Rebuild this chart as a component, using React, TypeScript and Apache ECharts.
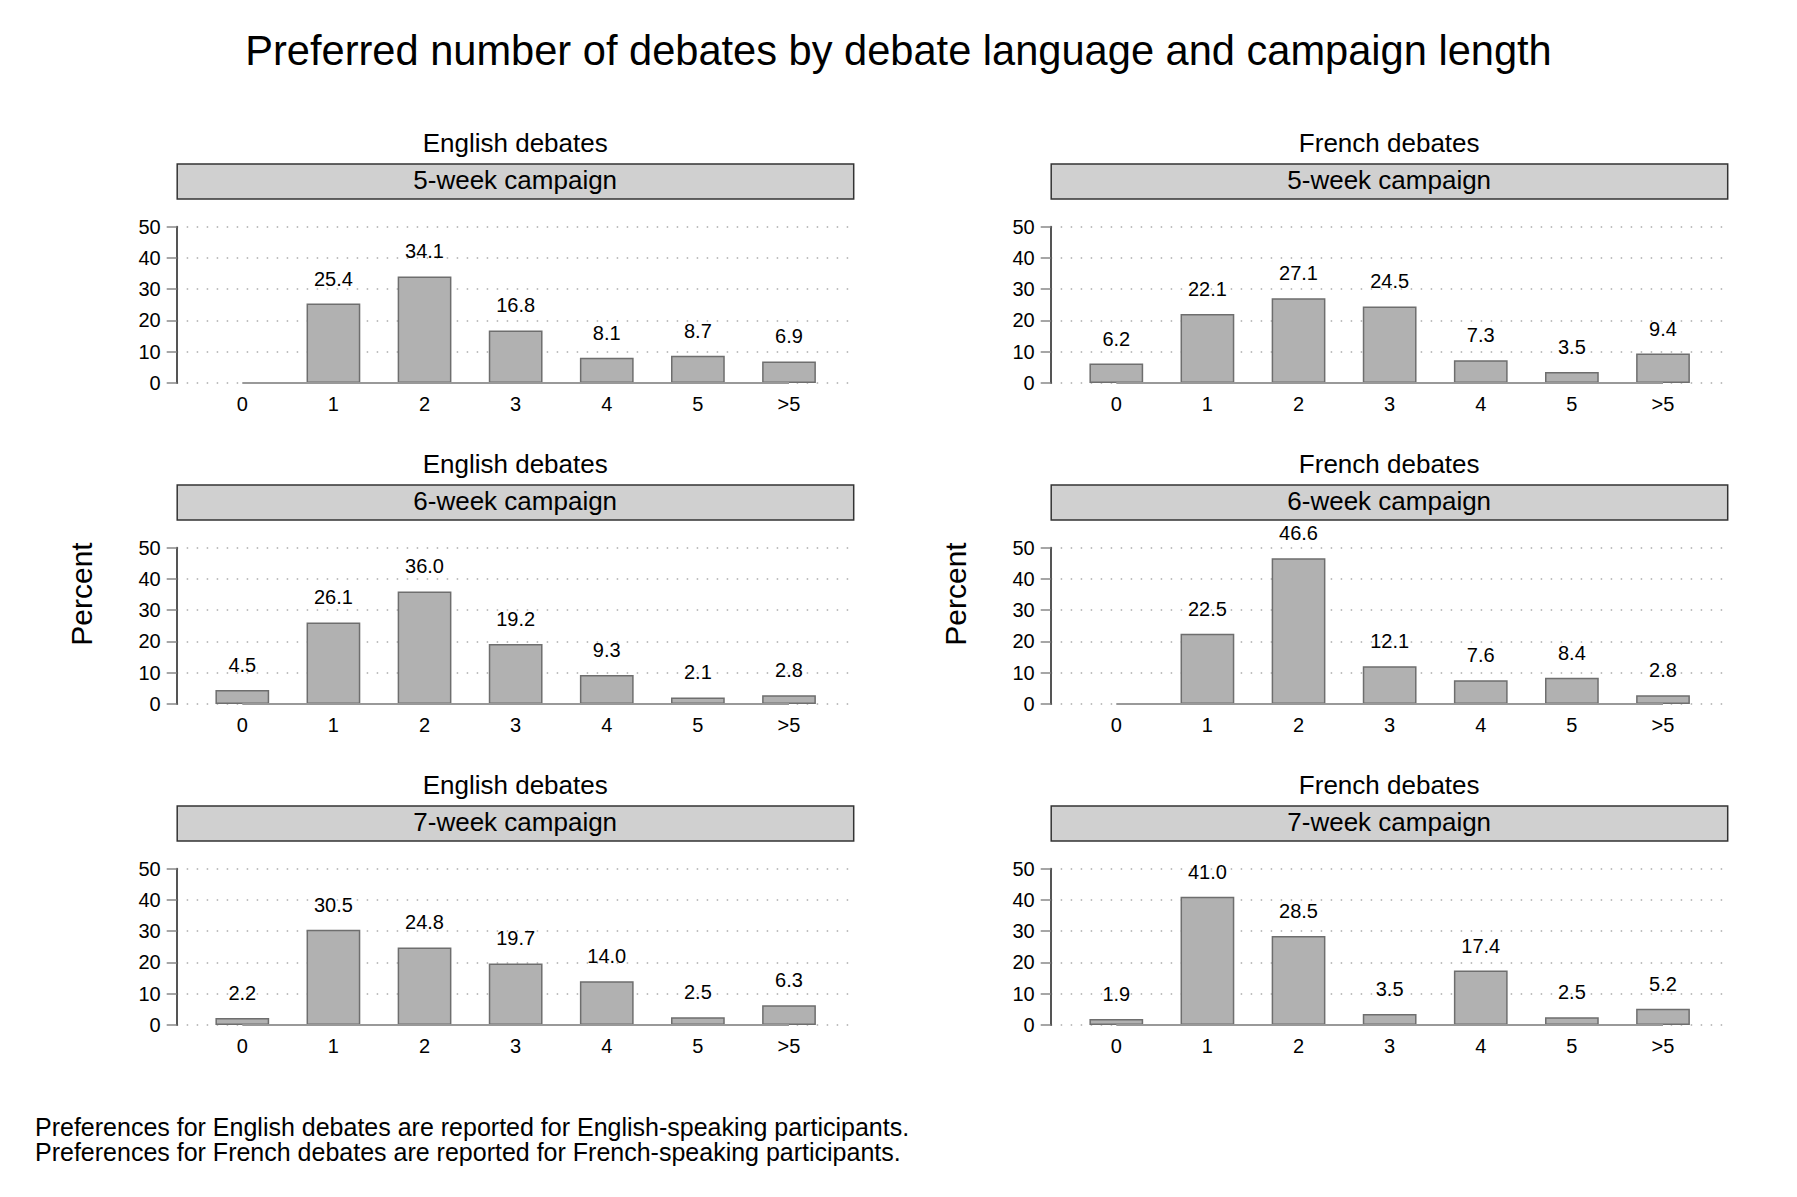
import React, { useEffect, useRef } from 'react';
import * as echarts from 'echarts';

// categories on the x axis (number of debates)
const categories = ['0', '1', '2', '3', '4', '5', '>5'];

// percent of participants, one list per panel
const english5 = [0, 25.4, 34.1, 16.8, 8.1, 8.7, 6.9];
const french5 = [6.2, 22.1, 27.1, 24.5, 7.3, 3.5, 9.4];
const english6 = [4.5, 26.1, 36.0, 19.2, 9.3, 2.1, 2.8];
const french6 = [0, 22.5, 46.6, 12.1, 7.6, 8.4, 2.8];
const english7 = [2.2, 30.5, 24.8, 19.7, 14.0, 2.5, 6.3];
const french7 = [1.9, 41.0, 28.5, 3.5, 17.4, 2.5, 5.2];

const languages = ['English debates', 'French debates'];
const campaigns = ['5-week campaign', '6-week campaign', '7-week campaign'];
const rows = [
  [english5, french5],
  [english6, french6],
  [english7, french7],
];

const titleText = 'Preferred number of debates by debate language and campaign length';
const notes = [
  'Preferences for English debates are reported for English-speaking participants.',
  'Preferences for French debates are reported for French-speaking participants.',
];

const FONT = '"Liberation Sans", Arial, Helvetica, sans-serif';

// layout (px)
const colLeft = [176.7, 1050.7];
const plotW = 677;
const plotH = 156.3;
const plotTop0 = 226.7;
const rowStep = 321;
const stripTop0 = 164;
const stripH = 35;

const App: React.FC = () => {
  const chartRef = useRef<HTMLDivElement>(null);

  useEffect(() => {
    document.body.style.margin = '0';
    const chart = echarts.init(chartRef.current!, undefined, { renderer: 'svg' });

    const grids: any[] = [];
    const xAxes: any[] = [];
    const yAxes: any[] = [];
    const series: any[] = [];
    const graphics: any[] = [];

    rows.forEach((row, r) => {
      row.forEach((values, c) => {
        const idx = grids.length;
        const left = colLeft[c];
        grids.push({ left, top: plotTop0 + r * rowStep, width: plotW, height: plotH });
        xAxes.push({
          type: 'value',
          gridIndex: idx,
          min: -0.72,
          max: 6.71,
          axisLine: { show: false, onZero: false },
          axisTick: { show: false },
          splitLine: { show: false },
          axisLabel: {
            customValues: categories.map((_, k) => k),
            formatter: (v: number) => categories[Math.round(v)] ?? '',
            fontSize: 20,
            fontFamily: FONT,
            color: '#000',
            margin: 11,
          },
        });
        yAxes.push({
          type: 'value',
          gridIndex: idx,
          min: 0,
          max: 50,
          interval: 10,
          axisLine: { show: true, onZero: false, lineStyle: { color: '#555', width: 2 } },
          axisTick: { show: true, length: 10, lineStyle: { color: '#888', width: 1.5 } },
          axisLabel: { fontSize: 20, fontFamily: FONT, color: '#000', margin: 16 },
          splitLine: {
            show: true,
            lineStyle: { color: '#aaa', width: 1.5, type: [1.5, 8.5] },
          },
        });
        series.push({
          type: 'bar',
          xAxisIndex: idx,
          yAxisIndex: idx,
          data: values.map((v, k) => ({
            value: [k, v],
            itemStyle: v === 0 ? { opacity: 0 } : undefined,
          })),
          barWidth: '59%',
          itemStyle: { color: '#b1b1b1', borderColor: '#6e6e6e', borderWidth: 1.5 },
          label: {
            show: true,
            position: 'top',
            distance: 15,
            fontSize: 20,
            fontFamily: FONT,
            color: '#000',
            formatter: (p: any) => (p.value[1] === 0 ? '' : p.value[1].toFixed(1)),
          },
          markLine: {
            silent: true,
            symbol: 'none',
            label: { show: false },
            lineStyle: { color: '#999', width: 2, type: 'solid' },
            data: [[{ coord: [0, 0] }, { coord: [categories.length - 1, 0] }]],
          },
        });

        const stripTop = stripTop0 + r * rowStep;
        const cx = left + plotW / 2;
        graphics.push({
          type: 'text',
          x: cx,
          y: 143 + r * rowStep,
          style: {
            text: languages[c],
            fontSize: 26,
            fontFamily: FONT,
            fill: '#000',
            align: 'center',
            verticalAlign: 'middle',
          },
        });
        graphics.push({
          type: 'rect',
          shape: { x: left + 0.5, y: stripTop, width: plotW - 0.5, height: stripH },
          style: { fill: '#d0d0d0', stroke: '#333', lineWidth: 1.5 },
        });
        graphics.push({
          type: 'text',
          x: cx,
          y: stripTop + stripH / 2 - 2,
          style: {
            text: campaigns[r],
            fontSize: 26,
            fontFamily: FONT,
            fill: '#000',
            align: 'center',
            verticalAlign: 'middle',
          },
        });
      });
    });

    // y axis titles, one per column, centred on the column
    colLeft.forEach((left) => {
      graphics.push({
        type: 'text',
        x: left - 95,
        y: 594,
        rotation: Math.PI / 2,
        style: {
          text: 'Percent',
          fontSize: 30,
          fontFamily: FONT,
          fill: '#000',
          align: 'center',
          verticalAlign: 'middle',
        },
      });
    });

    graphics.push({
      type: 'text',
      x: 898.5,
      y: 50.5,
      style: {
        text: titleText,
        fontSize: 41.6,
        fontFamily: FONT,
        fill: '#000',
        align: 'center',
        verticalAlign: 'middle',
      },
    });

    notes.forEach((t, i) => {
      graphics.push({
        type: 'text',
        x: 35,
        y: 1127 + i * 25,
        style: {
          text: t,
          fontSize: 25,
          fontFamily: FONT,
          fill: '#000',
          align: 'left',
          verticalAlign: 'middle',
        },
      });
    });

    chart.setOption({
      animation: false,
      backgroundColor: '#fff',
      grid: grids,
      xAxis: xAxes,
      yAxis: yAxes,
      series,
      graphic: graphics,
    });

    return () => {
      chart.dispose();
    };
  }, []);

  return (
    <div
      ref={chartRef}
      style={{ position: 'absolute', left: 0, top: 0, width: '1797px', height: '1197px' }}
    />
  );
};

export default App;
